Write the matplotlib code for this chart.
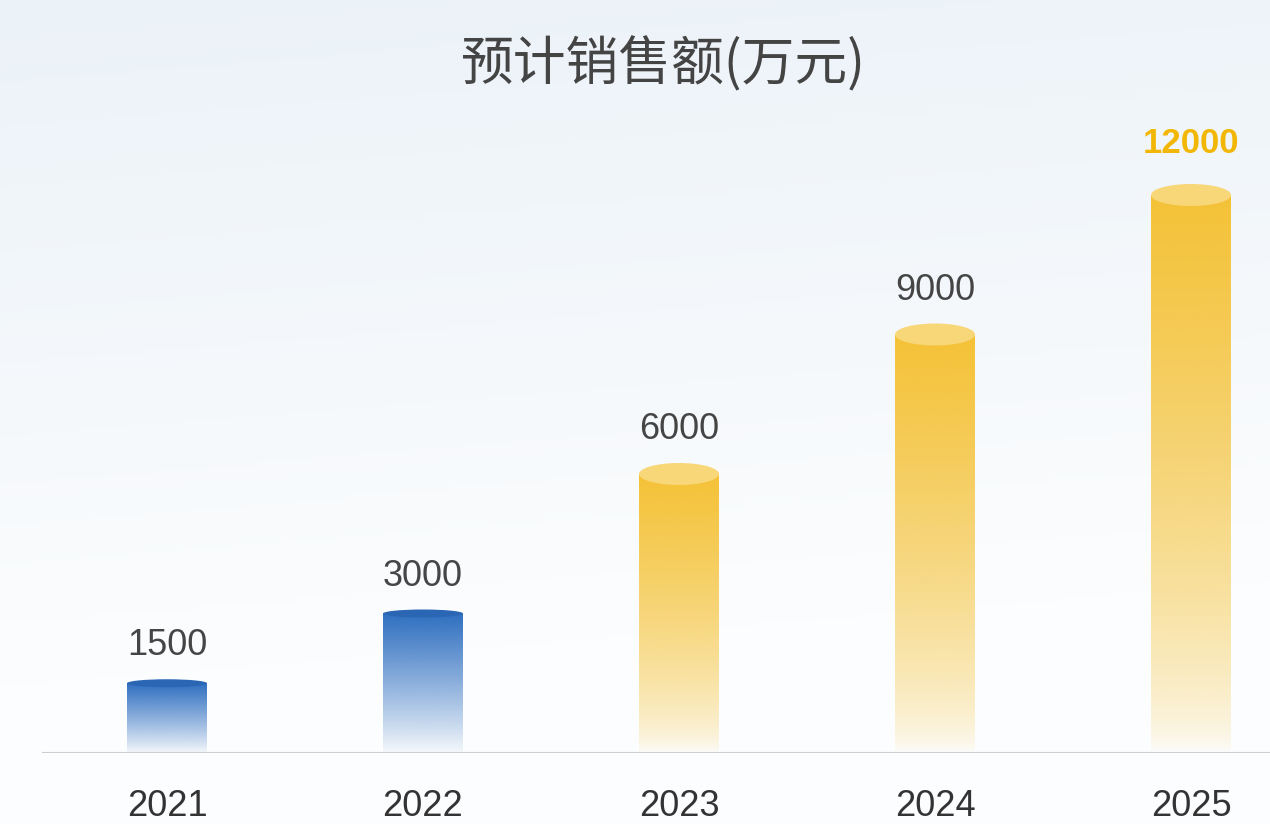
import numpy as np
import matplotlib
matplotlib.use('Agg')
from matplotlib import pyplot as plt
from matplotlib.patches import Ellipse
from matplotlib.colors import to_rgb

plt.rcParams['font.family'] = ['Liberation Sans', 'Noto Sans CJK SC', 'DejaVu Sans']

# ---------- data ----------
years = ['2021', '2022', '2023', '2024', '2025']
sales = [1500, 3000, 6000, 9000, 12000]
bar_colors = ['#2f6fc0', '#2f6fc0', '#f5c236', '#f5c236', '#f5c236']
cap_colors = ['#2a66b4', '#2a66b4', '#f8d779', '#f8d779', '#f8d779']
title = '预计销售额(万元)'

fig = plt.figure(figsize=(12.7, 8.24), dpi=100)

# background
bg = fig.add_axes([0, 0, 1, 1], zorder=0)
yy = np.linspace(0, 1, 200)[:, None]
xx = np.linspace(0, 1, 300)[None, :]
top = np.array(to_rgb('#ebf2f8'))
bot = np.array(to_rgb('#fcfdfe'))
t = np.clip(yy * 1.2 + 0.15 * xx, 0, 1)[..., None]
bg.imshow(top * (1 - t) + bot * t, aspect='auto', extent=[0, 1, 0, 1])
bg.axis('off')

ax = fig.add_axes([42 / 1270, 71 / 824, 1 - 42 / 1270, 1 - 71 / 824], zorder=1)
ax.patch.set_alpha(0)
px_per_unit = 46.5 / 1000
ax.set_xlim((42 - 167) / 256, (1270 - 167) / 256)
ax.set_ylim(0, 753 / px_per_unit)

w = 80 / 256
for i, (v, c, cc) in enumerate(zip(sales, bar_colors, cap_colors)):
    rgb = np.array(to_rgb(c))
    n = 256
    if i < 2:
        a = np.linspace(1, 0.02, n) ** 0.9
    else:
        a = np.linspace(1, 0, n) ** 0.6
    img = np.zeros((n, 1, 4))
    img[:, 0, :3] = rgb
    img[:, 0, 3] = a
    ax.imshow(img, aspect='auto', extent=[i - w / 2, i + w / 2, 0, v],
              interpolation='bilinear', zorder=2)
    cap_h = (8 if i < 2 else 22) / px_per_unit
    ax.add_patch(Ellipse((i, v), w, cap_h, color=cc, zorder=3, lw=0))
    top_px = cap_h / 2
    if i == 4:
        ax.annotate(f'{v}', (i, v + top_px), xytext=(0, 29), textcoords='offset points',
                    ha='center', va='center', fontsize=25, fontweight='bold',
                    color='#f2b705')
    else:
        ax.annotate(f'{v}', (i, v + top_px), xytext=(0, 24), textcoords='offset points',
                    ha='center', va='center', fontsize=26, color='#454545')

ax.axhline(0, color='#c9ced3', lw=1.5, zorder=4)
ax.set_xticks(range(len(years)))
ax.set_xticklabels(years, fontsize=26, color='#333333')
ax.tick_params(axis='x', length=0, pad=26)
ax.set_yticks([])
for s in ax.spines.values():
    s.set_visible(False)

fig.text(663 / 1270, 1 - 65 / 824, title, ha='center', va='center', fontsize=38,
         color='#444444', family=['Noto Sans CJK SC', 'DejaVu Sans'])

plt.savefig('out.png', dpi=100)
